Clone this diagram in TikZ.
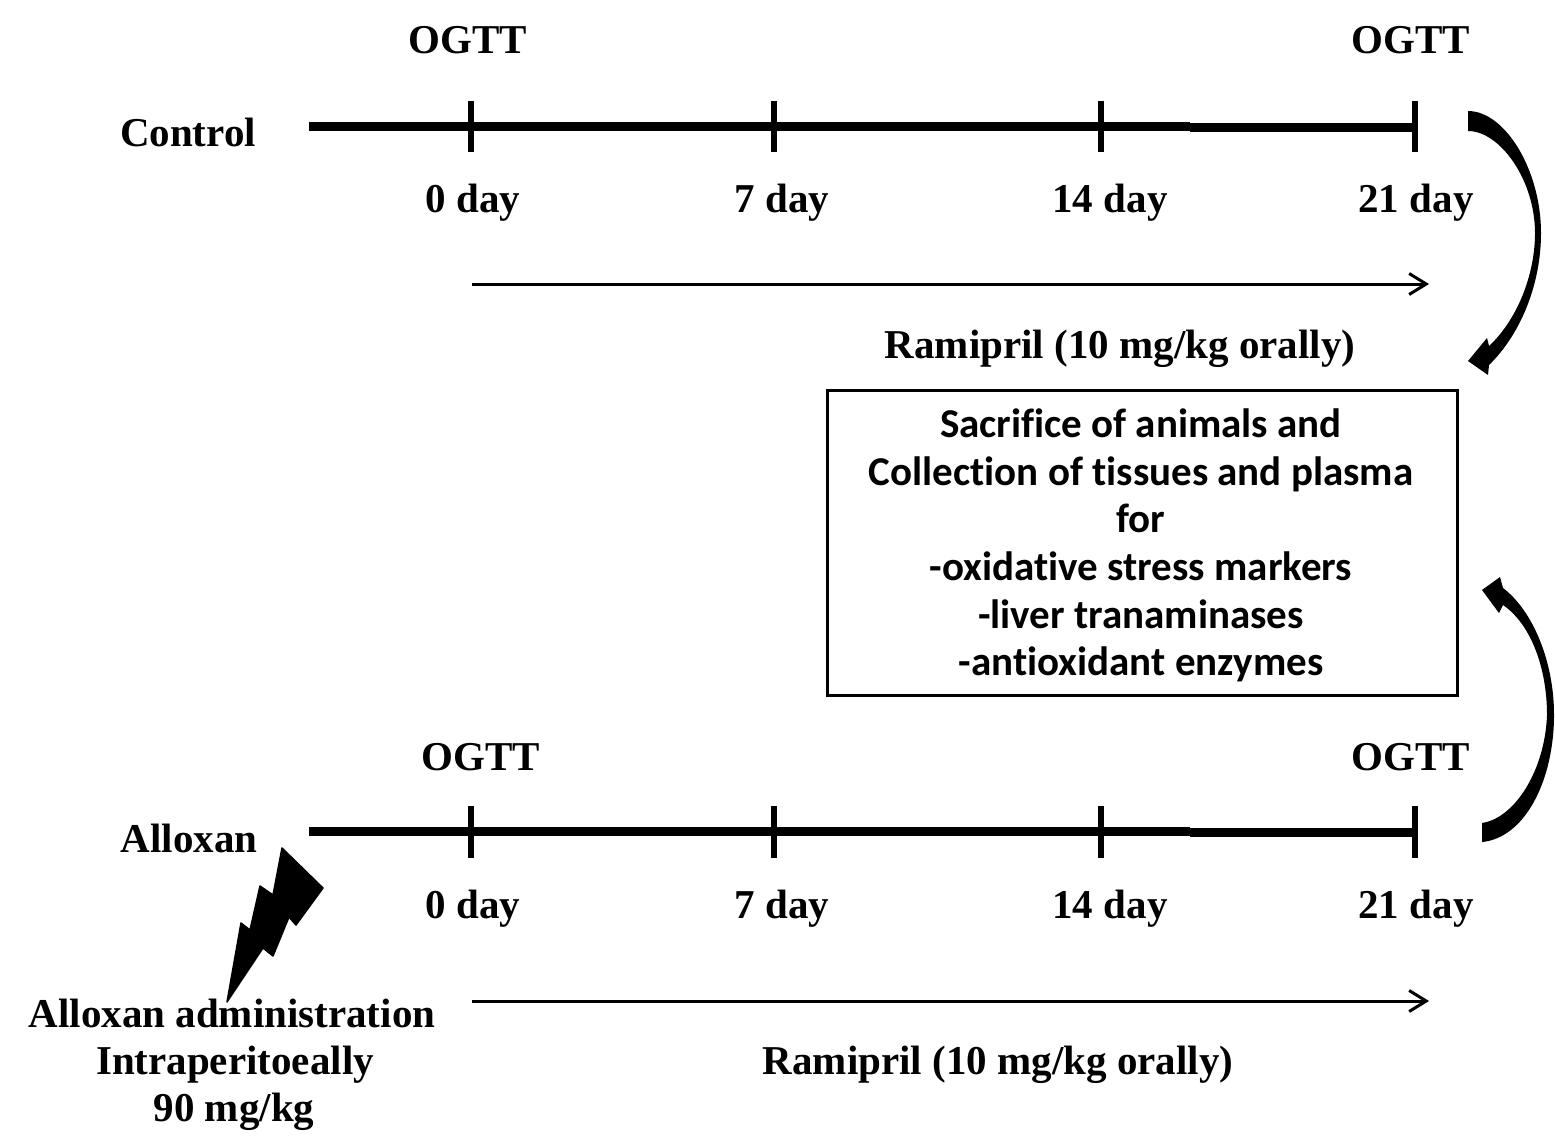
\documentclass[tikz,border=0pt]{standalone}
\usepackage{fontspec}
\setmainfont{Liberation Serif}
\newfontfamily\boxfont[Ligatures=NoCommon]{Carlito}
\usetikzlibrary{arrows.meta}
\tikzset{
  lbl/.style={inner sep=0pt,anchor=base,font=\fontsize{41}{48}\selectfont\bfseries},
  boxtxt/.style={inner sep=0pt,anchor=base,font=\boxfont\fontsize{41}{48}\selectfont\bfseries},
  axis/.style={line width=9pt,black},
  tick/.style={line width=6.5pt,black},
  dose/.style={line width=3pt,black,-{Straight Barb[length=17pt,width=21pt,line width=3pt]}},
  heavy/.style={fill=black,draw=none},
  bolt/.style={fill=black,draw=black,line width=1.5pt,line join=round}
}
\begin{document}
\begin{tikzpicture}[x=1pt,y=-1pt]
\useasboundingbox (0,0) rectangle (1555,1141);
% top timeline
\node[lbl] (og1) at (468,53) {OGTT};
\node[lbl] (og2) at (1411,53) {OGTT};
\node[lbl] (ctrl) at (188,146) {Control};
\coordinate (as) at (309,126);
\coordinate (am) at (1190,126);
\coordinate (an) at (1190,127);
\coordinate (ae) at (1415,127);
\draw[axis] (as) -- (am);
\draw[axis] (an) -- (ae);
\coordinate (t0a) at (471,101); \coordinate (t0b) at (471,152);
\coordinate (t1a) at (774,101); \coordinate (t1b) at (774,152);
\coordinate (t2a) at (1101,101); \coordinate (t2b) at (1101,152);
\coordinate (t3a) at (1415,101); \coordinate (t3b) at (1415,152);
\draw[tick] (t0a) -- (t0b);
\draw[tick] (t1a) -- (t1b);
\draw[tick] (t2a) -- (t2b);
\draw[tick] (t3a) -- (t3b);
\node[lbl] (d0) at (473,212) {0 day};
\node[lbl] (d7) at (782,212) {7 day};
\node[lbl] (d14) at (1110,212) {14 day};
\node[lbl] (d21) at (1416,212) {21 day};
\coordinate (ra) at (472,284);
\coordinate (rb) at (1429,284);
\draw[dose] (ra) -- (rb);
\node[lbl] (ram1) at (1120,358) {Ramipril (10 mg/kg orally)};
% box
\node[draw=black,line width=3pt,minimum width=630pt,minimum height=305pt,inner sep=0pt] (bx) at (1142,542.5) {};
\node[boxtxt] (b1) at (1141,437) {Sacrifice of animals and};
\node[boxtxt] (b2) at (1141,485) {Collection of tissues and plasma};
\node[boxtxt] (b3) at (1141,532) {for};
\node[boxtxt] (b4) at (1141,580) {-oxidative stress markers};
\node[boxtxt] (b5) at (1141,628) {-liver tranaminases};
\node[boxtxt] (b6) at (1141,675) {-antioxidant enzymes};
% bottom timeline
\node[lbl] (og3) at (481,770) {OGTT};
\node[lbl] (og4) at (1411,770) {OGTT};
\node[lbl] (allox) at (189,852) {Alloxan};
\coordinate (cs) at (309,831);
\coordinate (cm) at (1190,831);
\coordinate (cn) at (1190,832);
\coordinate (ce) at (1415,832);
\draw[axis] (cs) -- (cm);
\draw[axis] (cn) -- (ce);
\coordinate (u0a) at (471,806); \coordinate (u0b) at (471,858);
\coordinate (u1a) at (774,806); \coordinate (u1b) at (774,858);
\coordinate (u2a) at (1101,806); \coordinate (u2b) at (1101,858);
\coordinate (u3a) at (1415,806); \coordinate (u3b) at (1415,858);
\draw[tick] (u0a) -- (u0b);
\draw[tick] (u1a) -- (u1b);
\draw[tick] (u2a) -- (u2b);
\draw[tick] (u3a) -- (u3b);
\node[lbl] (e0) at (473,918) {0 day};
\node[lbl] (e7) at (782,918) {7 day};
\node[lbl] (e14) at (1110,918) {14 day};
\node[lbl] (e21) at (1416,918) {21 day};
\coordinate (sa) at (472,1001);
\coordinate (sb) at (1429,1001);
\draw[dose] (sa) -- (sb);
\node[lbl] (ram2) at (998,1074) {Ramipril (10 mg/kg orally)};
\node[lbl] (ad1) at (232,1027) {Alloxan administration};
\node[lbl] (ad2) at (235,1074) {Intraperitoeally};
\node[lbl] (ad3) at (234,1121) {90 mg/kg};
% lightning bolt
\path[bolt] (282,848) -- (323,888) -- (296,925) -- (289,917) -- (273,956) -- (263,948) -- (227,1002) -- (241,923) -- (250,930) -- (260,886) -- (273,895) -- cycle;
% curved arrows
\fill[heavy] (1468,111) .. controls (1505,111) and (1541,170) .. (1541,233)
  .. controls (1541,285) and (1520,335) .. (1489,365) -- (1488,375) -- (1468,361) -- (1487,338) -- (1489,346)
  .. controls (1517,320) and (1535,275) .. (1535,233)
  .. controls (1535,180) and (1500,131) .. (1468,131) -- cycle;
\fill[heavy] (1482,842) .. controls (1525,838) and (1554,780) .. (1554,715)
  .. controls (1554,660) and (1532,610) .. (1503,588) -- (1500,577) -- (1482,590) -- (1499,613) -- (1503,605)
  .. controls (1532,625) and (1547,670) .. (1547,715)
  .. controls (1545,770) and (1515,818) .. (1482,823) -- cycle;
\end{tikzpicture}
\end{document}
